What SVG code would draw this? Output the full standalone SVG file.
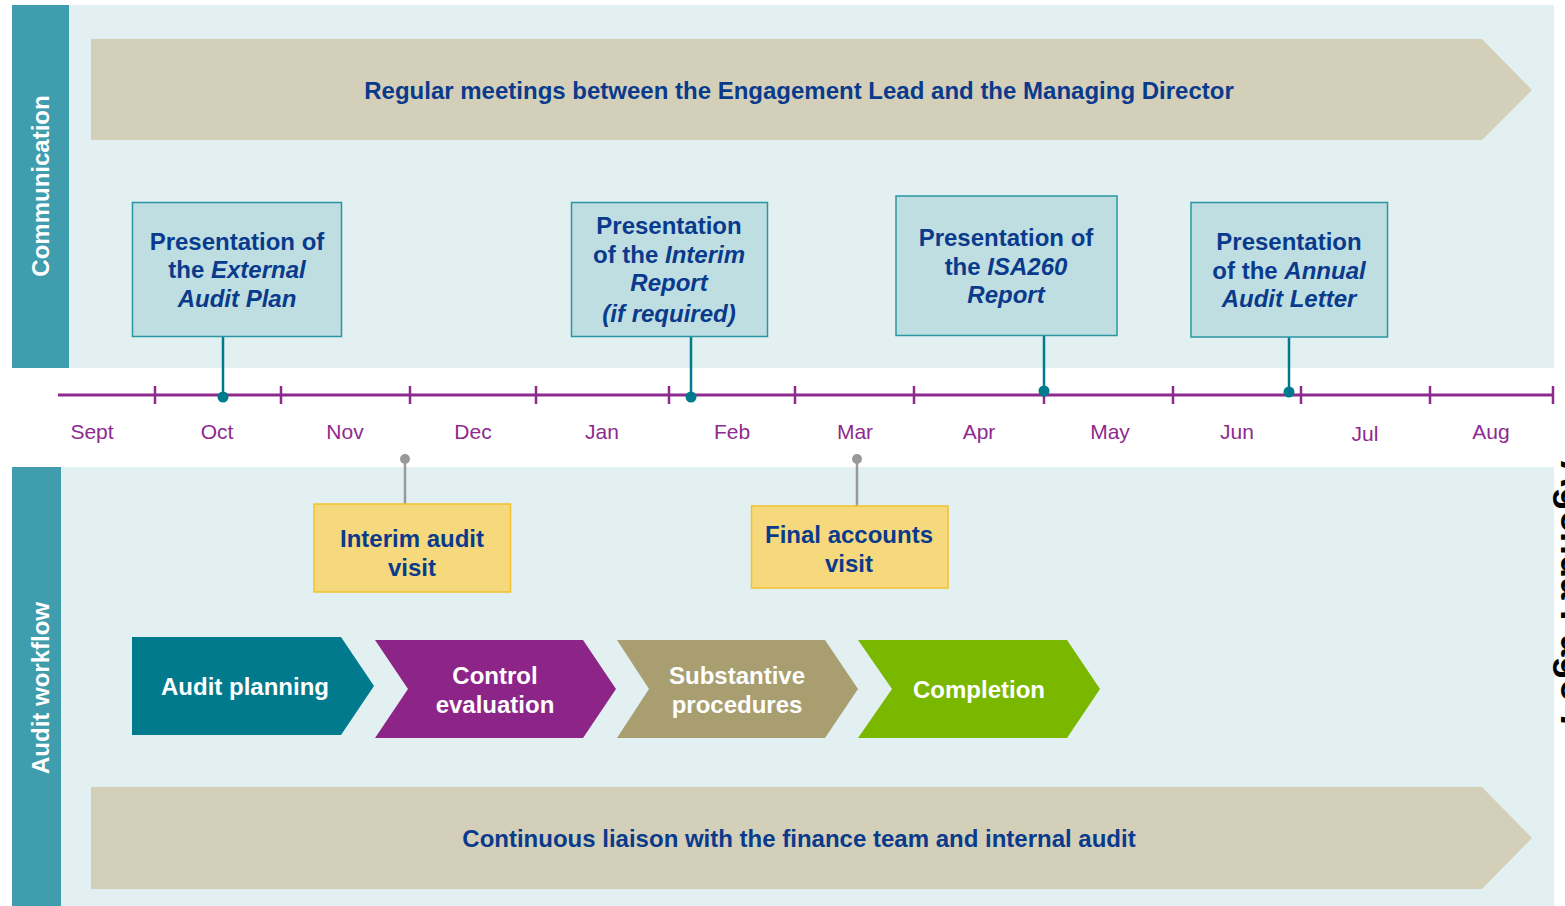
<svg xmlns="http://www.w3.org/2000/svg" width="1565" height="906" viewBox="0 0 1565 906">
  <style>
    .panel { fill: #E2F0F1; }
    .band { fill: #3F9DAD; }
    .banner { fill: #D4CFB8; }
    .side { font-family: "Liberation Sans", Arial, sans-serif; font-weight: bold; font-size: 24px; fill: #FFFFFF; text-anchor: middle; }
    .navy { font-family: "Liberation Sans", Arial, sans-serif; font-weight: bold; font-size: 24px; fill: #0A3A8C; text-anchor: middle; }
    .white { font-family: "Liberation Sans", Arial, sans-serif; font-weight: bold; font-size: 24px; fill: #FFFFFF; text-anchor: middle; }
    .month { font-family: "Liberation Sans", Arial, sans-serif; font-size: 21px; fill: #8E2A8E; text-anchor: middle; }
    .comm { fill: #BFDEE2; stroke: #2A96A3; stroke-width: 1.5; }
    .visit { fill: #F5D97C; stroke: #F2C12E; stroke-width: 1.5; }
    .tick { stroke: #8E2A8E; stroke-width: 2.5; }
    .stem { stroke: #007A8C; stroke-width: 2.5; fill: none; }
    .dot { fill: #007A8C; }
    .gstem { stroke: #999999; stroke-width: 2.5; fill: none; }
    .gdot { fill: #999999; }
    .it { font-style: italic; }
  </style>

  <rect width="1565" height="906" fill="#FFFFFF"/>

  <!-- Communication lane -->
  <g id="lane-communication">
    <rect class="panel" x="69" y="5" width="1485" height="363"/>
    <rect class="band" x="12" y="5" width="57" height="363"/>
    <text class="side" transform="translate(49,186) rotate(-90)">Communication</text>
  </g>

  <!-- Audit workflow lane -->
  <g id="lane-workflow">
    <rect class="panel" x="61" y="467" width="1493" height="439"/>
    <rect class="band" x="12" y="467" width="49" height="439"/>
    <text class="side" transform="translate(49,688) rotate(-90)">Audit workflow</text>
  </g>

  <!-- Banner arrows -->
  <g id="banner-meetings">
    <polygon class="banner" points="91,39 1482,39 1532,90 1482,140 91,140"/>
    <text class="navy" x="799" y="99">Regular meetings between the Engagement Lead and the Managing Director</text>
  </g>
  <g id="banner-liaison">
    <polygon class="banner" points="91,787 1482,787 1532,838 1482,889 91,889"/>
    <text class="navy" x="799" y="847">Continuous liaison with the finance team and internal audit</text>
  </g>

  <!-- Timeline -->
  <g id="timeline">
    <line x1="58" y1="395" x2="1554" y2="395" stroke="#8E2A8E" stroke-width="3"/>
    <g class="tick">
      <line x1="155" y1="386" x2="155" y2="404"/>
      <line x1="281" y1="386" x2="281" y2="404"/>
      <line x1="410" y1="386" x2="410" y2="404"/>
      <line x1="536" y1="386" x2="536" y2="404"/>
      <line x1="669" y1="386" x2="669" y2="404"/>
      <line x1="795" y1="386" x2="795" y2="404"/>
      <line x1="914" y1="386" x2="914" y2="404"/>
      <line x1="1044" y1="386" x2="1044" y2="404"/>
      <line x1="1173" y1="386" x2="1173" y2="404"/>
      <line x1="1301" y1="386" x2="1301" y2="404"/>
      <line x1="1430" y1="386" x2="1430" y2="404"/>
      <line x1="1553" y1="386" x2="1553" y2="404"/>
    </g>
    <text class="month" x="92" y="439">Sept</text>
    <text class="month" x="217" y="439">Oct</text>
    <text class="month" x="345" y="439">Nov</text>
    <text class="month" x="473" y="439">Dec</text>
    <text class="month" x="602" y="439">Jan</text>
    <text class="month" x="732" y="439">Feb</text>
    <text class="month" x="855" y="439">Mar</text>
    <text class="month" x="979" y="439">Apr</text>
    <text class="month" x="1110" y="439">May</text>
    <text class="month" x="1237" y="439">Jun</text>
    <text class="month" x="1365" y="441">Jul</text>
    <text class="month" x="1491" y="439">Aug</text>
  </g>

  <!-- Connectors from milestones to the timeline -->
  <g id="connectors">
    <line class="stem" x1="223" y1="337" x2="223" y2="397"/>
    <circle class="dot" cx="223" cy="397" r="5.5"/>
    <line class="stem" x1="691" y1="337" x2="691" y2="397"/>
    <circle class="dot" cx="691" cy="397" r="5.5"/>
    <line class="stem" x1="1044" y1="336" x2="1044" y2="391"/>
    <circle class="dot" cx="1044" cy="391" r="5.5"/>
    <line class="stem" x1="1289" y1="337" x2="1289" y2="392"/>
    <circle class="dot" cx="1289" cy="392" r="5.5"/>
    <line class="gstem" x1="405" y1="459" x2="405" y2="504"/>
    <circle class="gdot" cx="405" cy="459" r="5"/>
    <line class="gstem" x1="857" y1="459" x2="857" y2="506"/>
    <circle class="gdot" cx="857" cy="459" r="5"/>
  </g>

  <!-- Communication milestones -->
  <g id="audit-plan">
    <rect class="comm" x="132.5" y="202.5" width="209" height="134"/>
    <text class="navy" x="237" y="250">Presentation of</text>
    <text class="navy" x="237" y="278">the <tspan class="it">External</tspan></text>
    <text class="navy it" x="237" y="307">Audit Plan</text>
  </g>
  <g id="interim-report">
    <rect class="comm" x="571.5" y="202.5" width="196" height="134"/>
    <text class="navy" x="669" y="234">Presentation</text>
    <text class="navy" x="669" y="263">of the <tspan class="it">Interim</tspan></text>
    <text class="navy it" x="669" y="291">Report</text>
    <text class="navy it" x="669" y="322">(if required)</text>
  </g>
  <g id="isa260-report">
    <rect class="comm" x="896" y="196" width="221" height="139.5"/>
    <text class="navy" x="1006" y="246">Presentation of</text>
    <text class="navy" x="1006" y="275">the <tspan class="it">ISA260</tspan></text>
    <text class="navy it" x="1006" y="303">Report</text>
  </g>
  <g id="annual-letter">
    <rect class="comm" x="1191" y="202.5" width="196.5" height="134.5"/>
    <text class="navy" x="1289" y="250">Presentation</text>
    <text class="navy" x="1289" y="279">of the <tspan class="it">Annual</tspan></text>
    <text class="navy it" x="1289" y="307">Audit Letter</text>
  </g>

  <!-- Site visits -->
  <g id="interim-visit">
    <rect class="visit" x="314" y="504" width="196.5" height="88"/>
    <text class="navy" x="412" y="547">Interim audit</text>
    <text class="navy" x="412" y="576">visit</text>
  </g>
  <g id="final-visit">
    <rect class="visit" x="751.5" y="506" width="196.5" height="82"/>
    <text class="navy" x="849" y="543">Final accounts</text>
    <text class="navy" x="849" y="572">visit</text>
  </g>

  <!-- Workflow stages -->
  <g id="stage-planning">
    <polygon points="132,637 341,637 374,686 341,735 132,735" fill="#007A8C"/>
    <text class="white" x="245" y="695">Audit planning</text>
  </g>
  <g id="stage-control">
    <polygon points="375,640 583,640 616,689 583,738 375,738 408,689" fill="#8D2589"/>
    <text class="white" x="495" y="684">Control</text>
    <text class="white" x="495" y="713">evaluation</text>
  </g>
  <g id="stage-substantive">
    <polygon points="617,640 825,640 858,689 825,738 617,738 649,689" fill="#A89E70"/>
    <text class="white" x="737" y="684">Substantive</text>
    <text class="white" x="737" y="713">procedures</text>
  </g>
  <g id="stage-completion">
    <polygon points="858,640 1067,640 1100,689 1067,738 858,738 892,689" fill="#7AB800"/>
    <text class="white" x="979" y="698">Completion</text>
  </g>

  <!-- Page stamp on the right margin -->
  <text transform="translate(1561,460) rotate(90)" font-family="'Liberation Sans', Arial, sans-serif" font-weight="bold" font-size="38" fill="#000000">Agenda Page 7</text>
</svg>
